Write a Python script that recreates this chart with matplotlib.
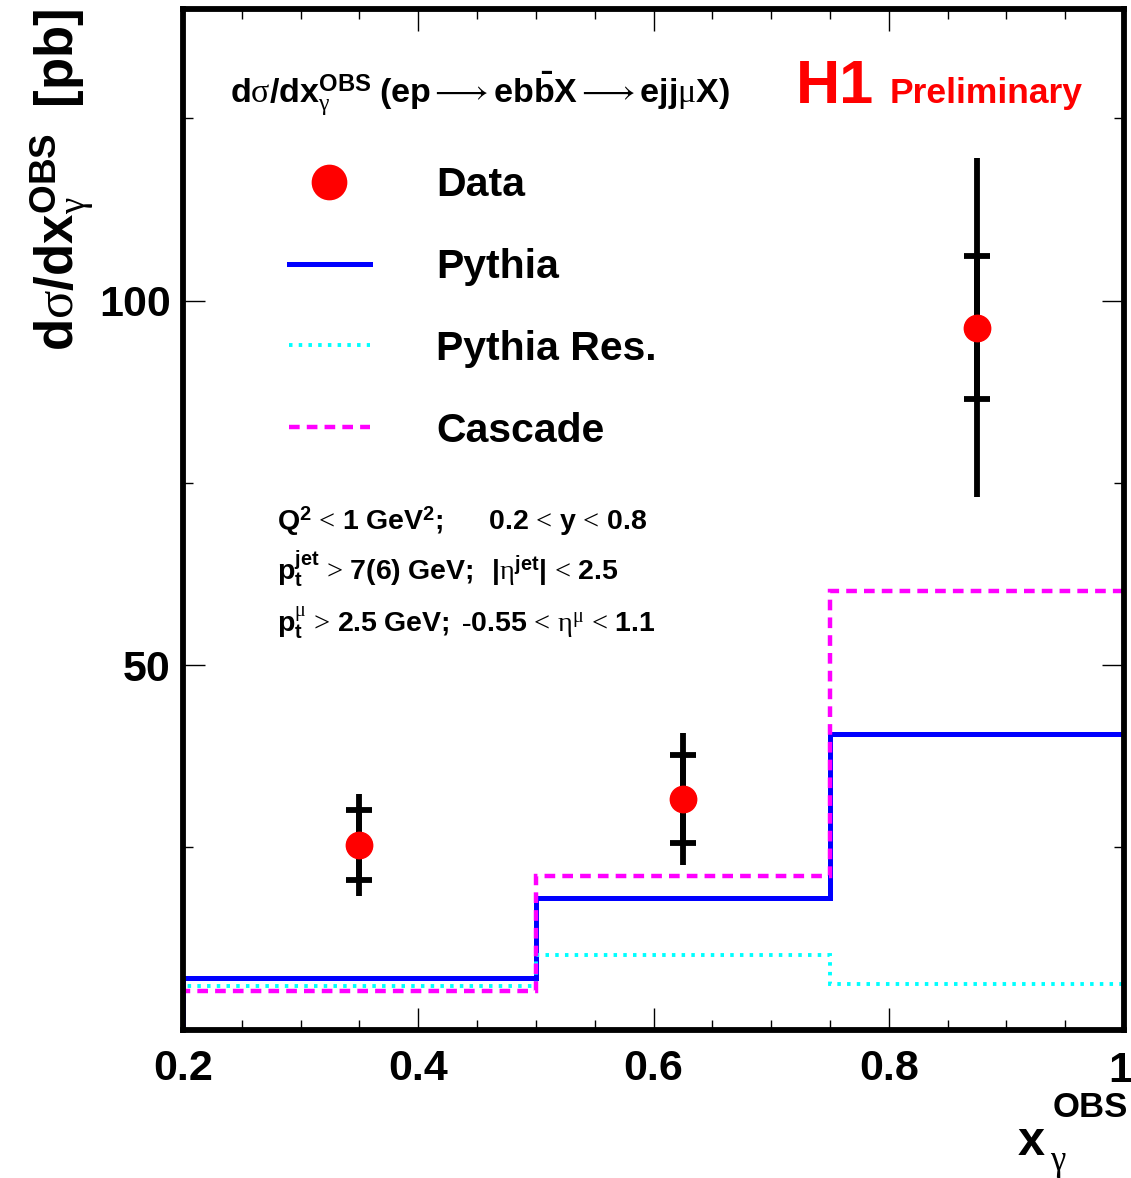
import numpy as np
import matplotlib
matplotlib.use('Agg')
import matplotlib.pyplot as plt
import matplotlib.transforms as mtransforms
from matplotlib.ticker import MultipleLocator, FuncFormatter

# ---- data ----
bin_edges = [0.2, 0.5, 0.75, 1.0]
pythia = [7.1, 18.0, 40.6]
pythia_res = [5.9, 10.2, 6.3]
cascade = [5.3, 21.0, 60.2]

x_data = [0.35, 0.625, 0.875]
y_data = [25.3, 31.6, 96.3]
err_stat = [4.8, 6.0, 9.8]
err_tot = [7.0, 9.1, 23.3]

legend_labels = ["Data", "Pythia", "Pythia Res.", "Cascade"]
cuts = [
    r'$\mathbf{Q}^{\mathbf{2}}\,<\,\mathbf{1\ GeV}^{\mathbf{2}}\mathbf{;\ \ \ \ \ \ 0.2}\,<\,\mathbf{y}\,<\,\mathbf{0.8}$',
    r'$\mathbf{p}_{\mathbf{t}}^{\mathbf{jet}}\,>\,\mathbf{7(6)\ GeV;\ \ |}\mathrm{\eta}^{\mathbf{jet}}\mathbf{|}\,<\,\mathbf{2.5}$',
    r'$\mathbf{p}_{\mathbf{t}}^{\mathrm{\mu}}\,>\,\mathbf{2.5\ GeV;\ \text{-}0.55}\,<\,\mathrm{\eta}^{\mathrm{\mu}}\,<\,\mathbf{1.1}$',
]

plt.rcParams['font.family'] = ['Liberation Sans', 'DejaVu Sans']
plt.rcParams['mathtext.fontset'] = 'custom'
plt.rcParams['mathtext.rm'] = 'Liberation Serif'
plt.rcParams['mathtext.it'] = 'Liberation Serif:italic'
plt.rcParams['mathtext.bf'] = 'Liberation Sans:bold'
plt.rcParams['mathtext.fallback'] = 'stix'

W, H = 1131, 1178
fig = plt.figure(figsize=(W / 100, H / 100), dpi=100)
ax = fig.add_axes([183 / W, 1 - 1029.5 / H, (1124 - 183) / W, (1029.5 - 9) / H])

# histograms
ax.stairs(pythia, bin_edges, baseline=0, color='#0000ff', lw=3.6, label=legend_labels[1])
ax.stairs(pythia_res, bin_edges, baseline=0, color='#00ffff', lw=2.8,
          linestyle=(0, (0.9, 1.6)), label=legend_labels[2])
ax.stairs(cascade, bin_edges, baseline=0, color='#ff00ff', lw=3.2,
          linestyle=(0, (2.4, 1.6)), label=legend_labels[3])

# data: total error without caps, statistical error marked by ticks
ax.errorbar(x_data, y_data, yerr=err_tot, fmt='none', ecolor='black', elinewidth=4.2, capsize=0)
ax.errorbar(x_data, y_data, yerr=err_stat, fmt='none', ecolor='black', elinewidth=4.2,
            capsize=9.5, capthick=4.2)
data_pts, = ax.plot(x_data, y_data, 'o', color='#ff0000', ms=19, label=legend_labels[0], zorder=5)

ax.set_xlim(0.2, 1.0)
ax.set_ylim(0, 140)

ax.xaxis.set_major_locator(MultipleLocator(0.2))
ax.xaxis.set_minor_locator(MultipleLocator(0.05))
ax.yaxis.set_major_locator(MultipleLocator(50))
ax.yaxis.set_minor_locator(MultipleLocator(25))
# the "1" at the right edge is placed separately so it stays inside the figure
ax.xaxis.set_major_formatter(FuncFormatter(lambda v, p: '' if abs(v - 1) < 1e-9 else f'{v:.1f}'))
ax.yaxis.set_major_formatter(FuncFormatter(lambda v, p: '' if v == 0 else f'{v:.0f}'))

ax.tick_params(which='both', direction='in', top=True, right=True, width=1.0, labelsize=31)
ax.tick_params(which='major', length=16)
ax.tick_params(which='minor', length=7.5)
ax.tick_params(axis='x', pad=14)
ax.tick_params(axis='y', pad=9)
for s in ax.spines.values():
    s.set_linewidth(4.2)
plt.setp(ax.xaxis.get_majorticklabels(), fontweight='bold')
plt.setp(ax.yaxis.get_majorticklabels(), fontweight='bold')

xt = mtransforms.blended_transform_factory(ax.transData, ax.transAxes)
ax.text(1.0, 0, '1', transform=xt + mtransforms.ScaledTranslation(8 / 100, -21 / 100, fig.dpi_scale_trans),
        fontsize=31, fontweight='bold', ha='right', va='top')

# legend
h = ax.get_legend_handles_labels()
handles = dict(zip(h[1], h[0]))
leg = ax.legend([handles[l] for l in legend_labels], legend_labels,
                loc='upper left', bbox_to_anchor=(0.1125, 0.846), frameon=False,
                prop={'size': 29.5, 'weight': 'bold'}, handlelength=1.98, handletextpad=1.62,
                labelspacing=1.07, markerscale=1.3, borderpad=0, borderaxespad=0)

# header texts
ax.text(0.050, 0.908,
        r'$\mathbf{d}\mathrm{\sigma}\mathbf{/dx}_{\mathrm{\gamma}}^{\mathbf{OBS}}\ '
        r'\mathbf{(ep}\longrightarrow\mathbf{eb\bar{b}X}\longrightarrow\mathbf{ejj}\mathrm{\mu}\mathbf{X)}$',
        transform=ax.transAxes, fontsize=24.5, ha='left', va='baseline')
ax.text(0.651, 0.908, 'H1', transform=ax.transAxes, fontsize=44, color='#ff0000',
        fontweight='bold', ha='left', va='baseline')
ax.text(0.751, 0.908, 'Preliminary', transform=ax.transAxes, fontsize=25.5, color='#ff0000',
        fontweight='bold', ha='left', va='baseline')

for i, c in enumerate(cuts):
    ax.text(0.100, 0.490 - i * 0.050, c, transform=ax.transAxes, fontsize=20.5,
            ha='left', va='baseline')

# axis titles
fig.text(62 / W, 1 - 8 / H,
         r'$\mathbf{d}\mathrm{\sigma}\mathbf{/dx}_{\mathrm{\gamma}}^{\mathbf{OBS}}\ \ \mathbf{[pb]}$',
         rotation=90, fontsize=38, ha='center', va='top')
fig.text(1018 / W, 1 - 1155 / H, 'x', fontsize=35, fontweight='bold', ha='left', va='baseline')
fig.text(1128 / W, 1 - 1117 / H, 'OBS', fontsize=25, fontweight='bold', ha='right', va='baseline')
fig.text(1050 / W, 1 - 1170 / H, r'$\mathrm{\gamma}$', fontsize=25, ha='left', va='baseline')

fig.savefig('out.png', dpi=100)
